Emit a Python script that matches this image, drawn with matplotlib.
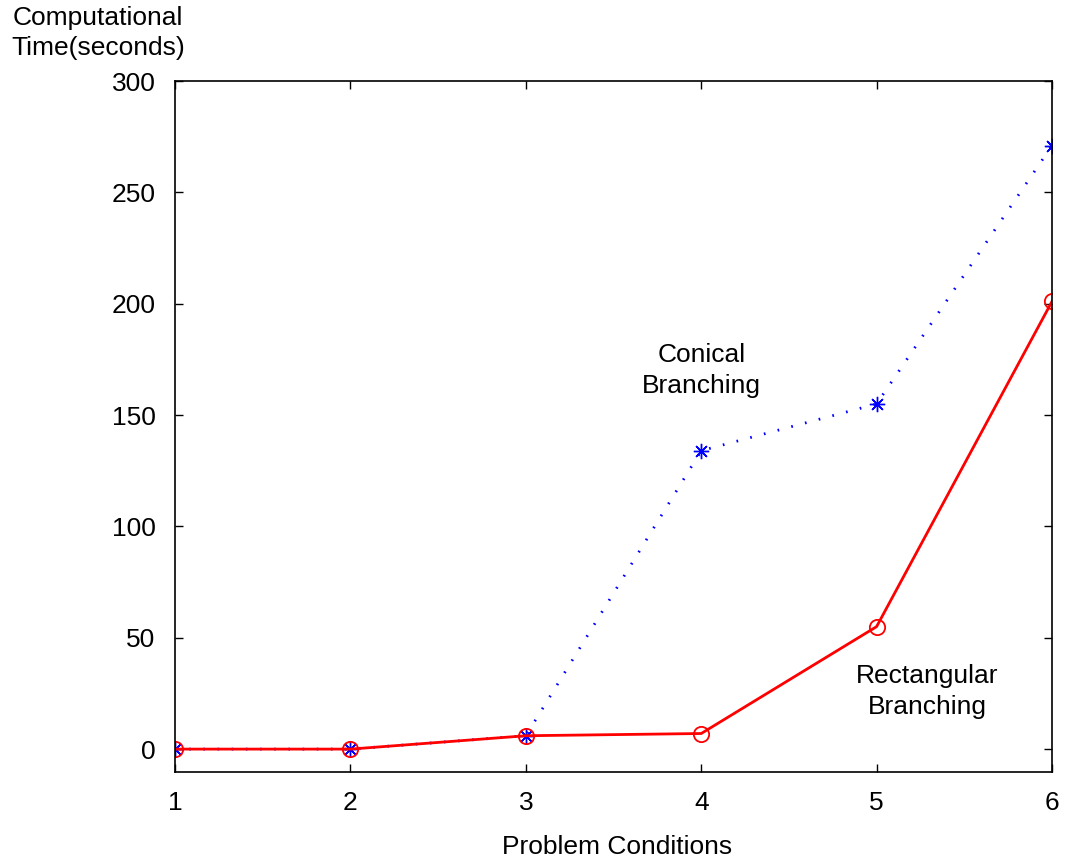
import matplotlib
matplotlib.use("Agg")
import matplotlib.pyplot as plt

plt.rcParams['font.family'] = ['Liberation Sans', 'DejaVu Sans']

conditions = [1, 2, 3, 4, 5, 6]
conical = [0, 0, 6, 134, 155, 271]
rectangular = [0, 0, 6, 7, 55, 201]

fig = plt.figure(figsize=(10.68, 8.63), dpi=100)
ax = fig.add_axes([0.1639, 0.1054, 0.8211, 0.8007])

ax.plot(conditions, conical, color='blue', linestyle=(0, (0.6, 4.5)), linewidth=2.0,
        marker=(8, 2, 0), markersize=11, markeredgecolor='blue', markeredgewidth=1.0)
ax.plot(conditions, rectangular, color='red', linestyle='-', linewidth=2.0,
        marker='o', markersize=11, markerfacecolor='none', markeredgewidth=1.3)

ax.set_xlim(1, 6)
ax.set_ylim(-10.3, 300)
ax.set_xticks(conditions)
ax.set_yticks([0, 50, 100, 150, 200, 250, 300])
ax.tick_params(direction='in', length=6, width=1.0, labelsize=19,
               top=True, right=True, pad=14)
for s in ax.spines.values():
    s.set_linewidth(1.2)

ax.text(4.0, 170, 'Conical\nBranching', ha='center', va='center', fontsize=19,
        linespacing=1.35)
ax.text(5.29, 26, 'Rectangular\nBranching', ha='center', va='center', fontsize=19,
        linespacing=1.35)

fig.text(98 / 1068, 1 - 33 / 863, 'Computational\nTime(seconds)', ha='center',
         va='center', fontsize=19, linespacing=1.35)
fig.text(617 / 1068, 1 - 847 / 863, 'Problem Conditions', ha='center', va='center',
         fontsize=19)

fig.savefig('out.png', dpi=100)
